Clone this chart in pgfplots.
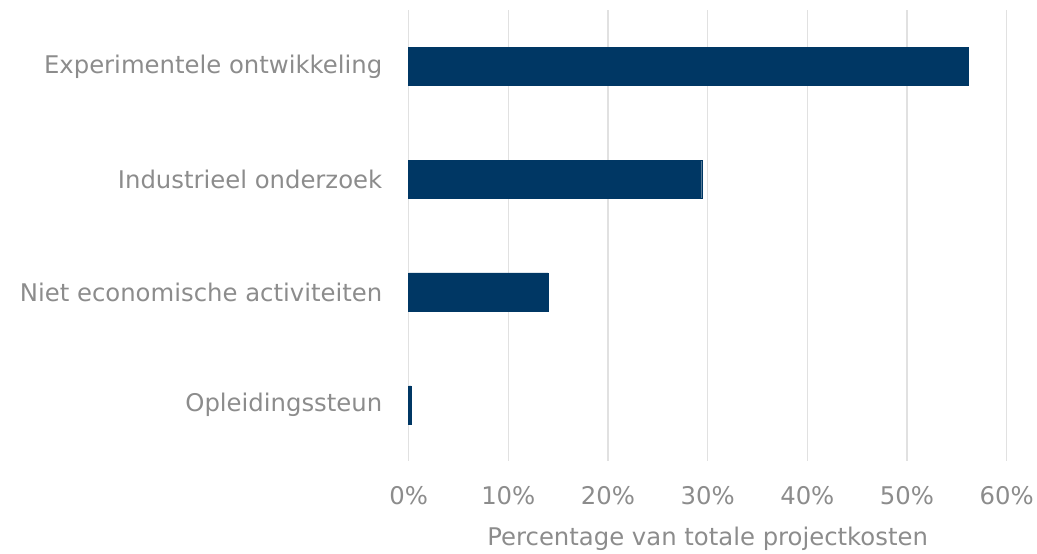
\documentclass[border=0pt]{standalone}
\usepackage{fontspec}
\setmainfont{DejaVu Sans}
\usepackage{pgfplots}
\pgfplotsset{compat=1.18}
\definecolor{barblue}{HTML}{003764}
\definecolor{txtgray}{HTML}{8C8C8C}
\definecolor{gridgray}{HTML}{E1E1E1}
\begin{document}
\begin{tikzpicture}[x=1bp,y=1bp]
\begin{axis}[
  name=main,
  scale only axis,
  width=600bp, height=453bp,
  xbar, bar width=0.34,
  xmin=0, xmax=60,
  ymin=-0.5, ymax=3.5,
  y dir=reverse,
  ytick={0,1,2,3},
  yticklabels={Experimentele ontwikkeling,Industrieel onderzoek,Niet economische activiteiten,Opleidingssteun},
  xtick={0,10,20,30,40,50,60},
  xticklabels={0\%,10\%,20\%,30\%,40\%,50\%,60\%},
  /pgf/number format/assume math mode=true,
  axis line style={draw=none},
  major tick length=0pt,
  xmajorgrids,
  grid style={gridgray, line width=1.6bp},
  ticklabel style={font=\fontsize{24.5}{28}\selectfont, text=txtgray},
  yticklabel style={xshift=-23bp},
  xticklabel style={yshift=-22bp},
  xlabel={Percentage van totale projectkosten},
  xlabel style={font=\fontsize{24.5}{28}\selectfont, text=txtgray, yshift=-15bp},
  clip=false,
]
\addplot[fill=barblue, draw=barblue, line width=0.3bp] coordinates {
  (56.1,0) (29.4,1) (14.0,2) (0.25,3)
};
\end{axis}
\path ([yshift=10bp]main.north west) ([xshift=-410bp]main.north west);
\end{tikzpicture}
\end{document}
